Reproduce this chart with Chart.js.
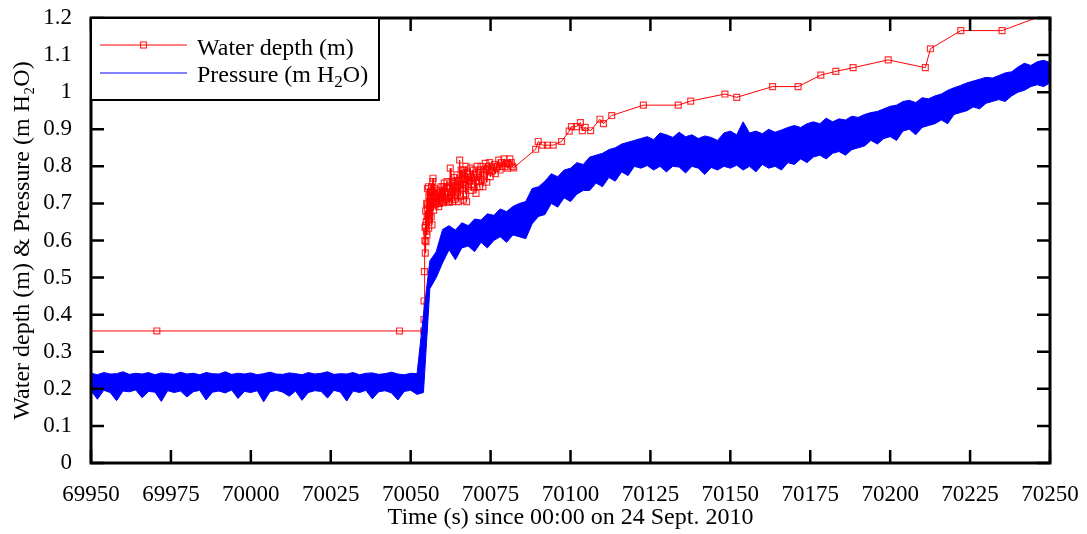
<!DOCTYPE html>
<html>
<head>
<meta charset="utf-8">
<script src="https://cdn.jsdelivr.net/npm/chart.js@4.4.1/dist/chart.umd.min.js"></script>
<style>
  html, body { margin: 0; padding: 0; background: #fff; }
</style>
</head>
<body>
<canvas id="depthChart" width="1087" height="534"></canvas>
<script>
// water depth readings (s, m)
const depthTime = [
  69946, 69970.6, 70046.5,
  70054.07, 70054.16, 70054.2, 70054.3, 70054.45, 70054.52, 70054.57, 70054.65, 70054.7, 70054.78,
  70054.88, 70054.95, 70055.0, 70055.1, 70055.15, 70055.2, 70055.25, 70055.3, 70055.41, 70055.5,
  70055.55, 70055.63, 70055.7, 70055.8, 70055.9, 70056.0, 70056.05, 70056.13, 70056.2, 70056.3,
  70056.44, 70056.55, 70056.6, 70056.67, 70056.8, 70056.9, 70057.0, 70057.1, 70057.2, 70057.3,
  70057.4, 70057.5, 70057.69, 70057.9, 70058.0, 70058.1, 70058.23, 70058.5, 70058.6, 70058.76,
  70058.9, 70059.0, 70059.2, 70059.3, 70059.5, 70059.6, 70059.79, 70060.0, 70060.1, 70060.2,
  70060.5, 70060.7, 70060.82, 70060.9, 70061.0, 70061.2, 70061.36, 70061.5, 70061.6, 70061.89,
  70062.1, 70062.2, 70062.39, 70062.6, 70062.8, 70062.92, 70063.1, 70063.3, 70063.5, 70063.6,
  70063.8, 70063.95, 70064.1, 70064.2, 70064.48, 70064.6, 70064.8, 70064.9, 70065.01, 70065.2,
  70065.33, 70065.6, 70065.8, 70066.05, 70066.2, 70066.3, 70066.4, 70066.7, 70066.9, 70067.08,
  70067.2, 70067.3, 70067.5, 70067.8, 70068.0, 70068.14, 70068.4, 70068.64, 70068.9, 70069.0,
  70069.18, 70069.4, 70069.71, 70069.9, 70070.0, 70070.43, 70070.6, 70070.8, 70071.1, 70071.27,
  70071.5, 70071.77, 70072.0, 70072.3, 70072.6, 70072.83, 70073.0, 70073.33, 70073.6, 70073.8,
  70074.18, 70074.5, 70074.7, 70074.9, 70075.3, 70075.6, 70075.96, 70076.2, 70076.5, 70076.8,
  70077.0, 70077.53, 70078.0, 70078.3, 70078.56, 70079.2, 70079.5, 70079.9, 70080.3, 70080.84,
  70081.0, 70081.5, 70081.8, 70082.22,
  70089.1, 70089.9, 70091.3, 70092.8, 70094.6, 70097.2, 70099.6, 70100.3, 70101.9, 70103.1,
  70103.7, 70104.6, 70106.3, 70109.2, 70110.3, 70112.9, 70122.8, 70133.7, 70137.6, 70148.3,
  70152.0, 70163.2, 70171.2, 70178.3, 70183.0, 70188.4, 70199.4, 70211.0, 70212.6, 70222.1,
  70235.0, 70258
];
const depthValue = [
  0.356, 0.356, 0.356,
  0.356, 0.387, 0.437, 0.516, 0.600, 0.635, 0.566, 0.640, 0.680, 0.597,
  0.651, 0.625, 0.700, 0.615, 0.665, 0.687, 0.740, 0.696, 0.669, 0.655,
  0.745, 0.633, 0.720, 0.705, 0.660, 0.675, 0.730, 0.714, 0.690, 0.720,
  0.664, 0.745, 0.700, 0.642, 0.732, 0.759, 0.768, 0.715, 0.682, 0.703,
  0.740, 0.725, 0.696, 0.712, 0.705, 0.735, 0.723, 0.700, 0.715, 0.691,
  0.730, 0.700, 0.715, 0.725, 0.745, 0.715, 0.705, 0.730, 0.745, 0.702,
  0.755, 0.710, 0.709, 0.725, 0.730, 0.745, 0.759, 0.730, 0.715, 0.705,
  0.703, 0.740, 0.795, 0.730, 0.715, 0.759, 0.705, 0.748, 0.730, 0.710,
  0.770, 0.723, 0.745, 0.760, 0.777, 0.730, 0.742, 0.760, 0.705, 0.750,
  0.817, 0.720, 0.790, 0.768, 0.740, 0.780, 0.709, 0.790, 0.765, 0.750,
  0.725, 0.800, 0.705, 0.780, 0.745, 0.772, 0.760, 0.795, 0.735, 0.770,
  0.750, 0.790, 0.777, 0.745, 0.770, 0.727, 0.780, 0.800, 0.770, 0.759,
  0.745, 0.790, 0.800, 0.765, 0.745, 0.777, 0.785, 0.808, 0.790, 0.757,
  0.790, 0.800, 0.810, 0.772, 0.785, 0.790, 0.799, 0.805, 0.780, 0.795,
  0.800, 0.817, 0.790, 0.810, 0.799, 0.820, 0.800, 0.808, 0.795, 0.806,
  0.820, 0.810, 0.800, 0.796,
  0.846, 0.867, 0.857, 0.857, 0.857, 0.867, 0.895, 0.907, 0.907, 0.918,
  0.896, 0.905, 0.896, 0.927, 0.915, 0.937, 0.965, 0.965, 0.976, 0.995,
  0.986, 1.015, 1.015, 1.046, 1.056, 1.066, 1.087, 1.066, 1.117, 1.166,
  1.166, 1.240
];

// pressure band: upper and lower edge every 2 s from 69950
const pressureStart = 69950;
const pressureStep = 2;
const pressureHigh = [
  0.242, 0.238, 0.244, 0.240, 0.241, 0.246, 0.239, 0.242, 0.240, 0.244,
  0.238, 0.243, 0.241, 0.239, 0.245, 0.240, 0.242, 0.238, 0.244, 0.241,
  0.240, 0.246, 0.239, 0.242, 0.240, 0.243, 0.238, 0.241, 0.245, 0.240,
  0.239, 0.243, 0.241, 0.238, 0.244, 0.240, 0.242, 0.246, 0.239, 0.241,
  0.240, 0.244, 0.238, 0.242, 0.243, 0.239, 0.241, 0.245, 0.240, 0.238,
  0.242, 0.241, 0.400, 0.545, 0.570, 0.630, 0.640, 0.628, 0.648, 0.640,
  0.658, 0.655, 0.672, 0.668, 0.685, 0.678, 0.692, 0.700, 0.705, 0.740,
  0.745, 0.760, 0.780, 0.772, 0.790, 0.795, 0.810, 0.805, 0.825, 0.830,
  0.835, 0.845, 0.850, 0.860, 0.865, 0.870, 0.875, 0.880, 0.872, 0.890,
  0.885, 0.878, 0.892, 0.880, 0.885, 0.875, 0.882, 0.878, 0.870, 0.890,
  0.895, 0.885, 0.920, 0.890, 0.895, 0.888, 0.900, 0.892, 0.898, 0.905,
  0.910, 0.905, 0.915, 0.920, 0.915, 0.930, 0.920, 0.928, 0.925, 0.935,
  0.932, 0.940, 0.945, 0.948, 0.955, 0.962, 0.965, 0.975, 0.978, 0.972,
  0.985, 0.982, 0.990, 0.995, 1.005, 1.012, 1.018, 1.025, 1.030, 1.035,
  1.040, 1.038, 1.045, 1.052, 1.055, 1.068, 1.078, 1.072, 1.082, 1.086,
  1.080
];
const pressureLow = [
  0.195, 0.172, 0.196, 0.190, 0.168, 0.194, 0.192, 0.197, 0.176, 0.193,
  0.191, 0.166, 0.195, 0.190, 0.194, 0.178, 0.192, 0.196, 0.170, 0.191,
  0.194, 0.189, 0.197, 0.174, 0.193, 0.190, 0.195, 0.165, 0.192, 0.196,
  0.191, 0.180, 0.194, 0.169, 0.190, 0.195, 0.193, 0.175, 0.196, 0.191,
  0.167, 0.194, 0.190, 0.196, 0.173, 0.192, 0.195, 0.189, 0.170, 0.193,
  0.196, 0.185, 0.190, 0.470, 0.500, 0.540, 0.575, 0.548, 0.580, 0.585,
  0.570, 0.595, 0.580, 0.600, 0.610, 0.595, 0.615, 0.610, 0.605, 0.645,
  0.665, 0.670, 0.700, 0.690, 0.715, 0.705, 0.725, 0.735, 0.735, 0.755,
  0.745, 0.770, 0.760, 0.785, 0.775, 0.800, 0.795, 0.802, 0.790, 0.800,
  0.785, 0.800, 0.798, 0.782, 0.800, 0.795, 0.778, 0.797, 0.790, 0.800,
  0.795, 0.803, 0.790, 0.800, 0.785, 0.805, 0.795, 0.800, 0.790, 0.810,
  0.805, 0.820, 0.810, 0.825, 0.830, 0.820, 0.835, 0.840, 0.830, 0.845,
  0.850, 0.855, 0.870, 0.860, 0.875, 0.880, 0.870, 0.895, 0.900, 0.885,
  0.905, 0.910, 0.915, 0.925, 0.915, 0.940, 0.945, 0.950, 0.960, 0.955,
  0.970, 0.975, 0.980, 0.975, 0.990, 1.000, 1.005, 1.015, 1.020, 1.015,
  1.025
];

const xTickLabels = ['69950', '69975', '70000', '70025', '70050', '70075', '70100',
  '70125', '70150', '70175', '70200', '70225', '70250'];
const yTickLabels = ['0', '0.1', '0.2', '0.3', '0.4', '0.5', '0.6', '0.7', '0.8', '0.9',
  '1', '1.1', '1.2'];

const serif = '"Liberation Serif", "Times New Roman", serif';

const depthPoints = depthTime.map((t, i) => ({ x: t, y: depthValue[i] }));
const highPoints = pressureHigh.map((v, i) => ({ x: pressureStart + i * pressureStep, y: v }));
const lowPoints = pressureLow.map((v, i) => ({ x: pressureStart + i * pressureStep, y: v }));

// gnuplot style frame with inward ticks on all four sides
const framePlugin = {
  id: 'frame',
  afterDatasetsDraw(chart) {
    const { ctx, chartArea: a, scales } = chart;
    ctx.save();
    ctx.strokeStyle = '#000';
    ctx.lineWidth = 2.5;
    ctx.beginPath();
    scales.x.ticks.forEach(t => {
      const px = scales.x.getPixelForValue(t.value);
      ctx.moveTo(px, a.bottom); ctx.lineTo(px, a.bottom - 13);
      ctx.moveTo(px, a.top); ctx.lineTo(px, a.top + 13);
    });
    scales.y.ticks.forEach(t => {
      const py = scales.y.getPixelForValue(t.value);
      ctx.moveTo(a.left, py); ctx.lineTo(a.left + 13, py);
      ctx.moveTo(a.right, py); ctx.lineTo(a.right - 13, py);
    });
    ctx.stroke();
    ctx.lineWidth = 3;
    ctx.strokeRect(a.left, a.top, a.right - a.left, a.bottom - a.top);
    ctx.restore();
  }
};

// boxed key in the top-left corner
const keyPlugin = {
  id: 'boxKey',
  afterDatasetsDraw(chart) {
    const { ctx, chartArea: a } = chart;
    const x0 = a.left, y0 = a.top, w = 288, h = 82;
    ctx.save();
    ctx.fillStyle = '#fff';
    ctx.fillRect(x0, y0, w, h);
    ctx.strokeStyle = '#000';
    ctx.lineWidth = 2;
    ctx.strokeRect(x0, y0, w, h);

    ctx.lineWidth = 1;
    ctx.strokeStyle = '#ff0000';
    ctx.beginPath(); ctx.moveTo(x0 + 9, y0 + 27); ctx.lineTo(x0 + 96, y0 + 27); ctx.stroke();
    ctx.strokeStyle = 'rgba(255,0,0,0.8)';
    ctx.lineWidth = 1.2;
    ctx.strokeRect(x0 + 49.5, y0 + 24, 6, 6);
    ctx.lineWidth = 1;
    ctx.strokeStyle = '#0000ff';
    ctx.beginPath(); ctx.moveTo(x0 + 9, y0 + 55); ctx.lineTo(x0 + 96, y0 + 55); ctx.stroke();

    ctx.fillStyle = '#000';
    ctx.textBaseline = 'alphabetic';
    ctx.textAlign = 'left';
    ctx.font = '24px ' + serif;
    const tx = x0 + 106;
    ctx.fillText('Water depth (m)', tx, y0 + 37);
    const s = 'Pressure (m H';
    ctx.fillText(s, tx, y0 + 64);
    let cx = tx + ctx.measureText(s).width;
    ctx.font = '17px ' + serif;
    ctx.fillText('2', cx, y0 + 69);
    cx += ctx.measureText('2').width;
    ctx.font = '24px ' + serif;
    ctx.fillText('O)', cx, y0 + 64);
    ctx.restore();
  }
};

new Chart(document.getElementById('depthChart').getContext('2d'), {
  type: 'line',
  data: {
    datasets: [
      {
        label: 'Pressure (m H2O)',
        data: highPoints,
        borderColor: '#0000ff',
        backgroundColor: '#0000ff',
        borderWidth: 1,
        pointRadius: 0,
        fill: '+1'
      },
      {
        label: 'Pressure low',
        data: lowPoints,
        borderColor: '#0000ff',
        borderWidth: 1,
        pointRadius: 0,
        fill: false
      },
      {
        label: 'Water depth (m)',
        data: depthPoints,
        borderColor: '#ff0000',
        borderWidth: 1,
        pointStyle: 'rect',
        pointRadius: 4.2,
        pointBorderWidth: 1.2,
        pointBorderColor: 'rgba(255,0,0,0.8)',
        pointBackgroundColor: 'rgba(0,0,0,0)',
        fill: false
      }
    ]
  },
  options: {
    responsive: false,
    animation: false,
    devicePixelRatio: 1,
    layout: { padding: { top: 18, right: 37, left: 0, bottom: 0 } },
    plugins: { legend: { display: false }, tooltip: { enabled: false } },
    elements: { line: { tension: 0 } },
    scales: {
      x: {
        type: 'linear',
        min: 69950,
        max: 70250,
        afterFit: s => { s.height = 71; s.paddingLeft = 0; s.paddingRight = 0; },
        grid: { display: false },
        border: { display: false },
        ticks: {
          stepSize: 25,
          padding: 10,
          color: '#000',
          font: { family: serif, size: 23 },
          maxRotation: 0,
          callback: (v, i) => xTickLabels[i]
        },
        title: {
          display: true,
          text: 'Time (s) since 00:00 on 24 Sept. 2010',
          color: '#000',
          font: { family: serif, size: 24 },
          padding: { top: 0, bottom: 2 }
        }
      },
      y: {
        min: 0,
        max: 1.2,
        afterFit: s => { s.width = 91; s.paddingTop = 0; s.paddingBottom = 0; },
        grid: { display: false },
        border: { display: false },
        ticks: {
          stepSize: 0.1,
          padding: 11,
          color: '#000',
          font: { family: serif, size: 23 },
          callback: (v, i) => yTickLabels[i]
        },
        title: {
          display: true,
          text: 'Water depth (m) & Pressure (m H\u2082O)',
          color: '#000',
          font: { family: serif, size: 24 },
          padding: { top: 8, bottom: 0 }
        }
      }
    }
  },
  plugins: [framePlugin, keyPlugin]
});
</script>
</body>
</html>
